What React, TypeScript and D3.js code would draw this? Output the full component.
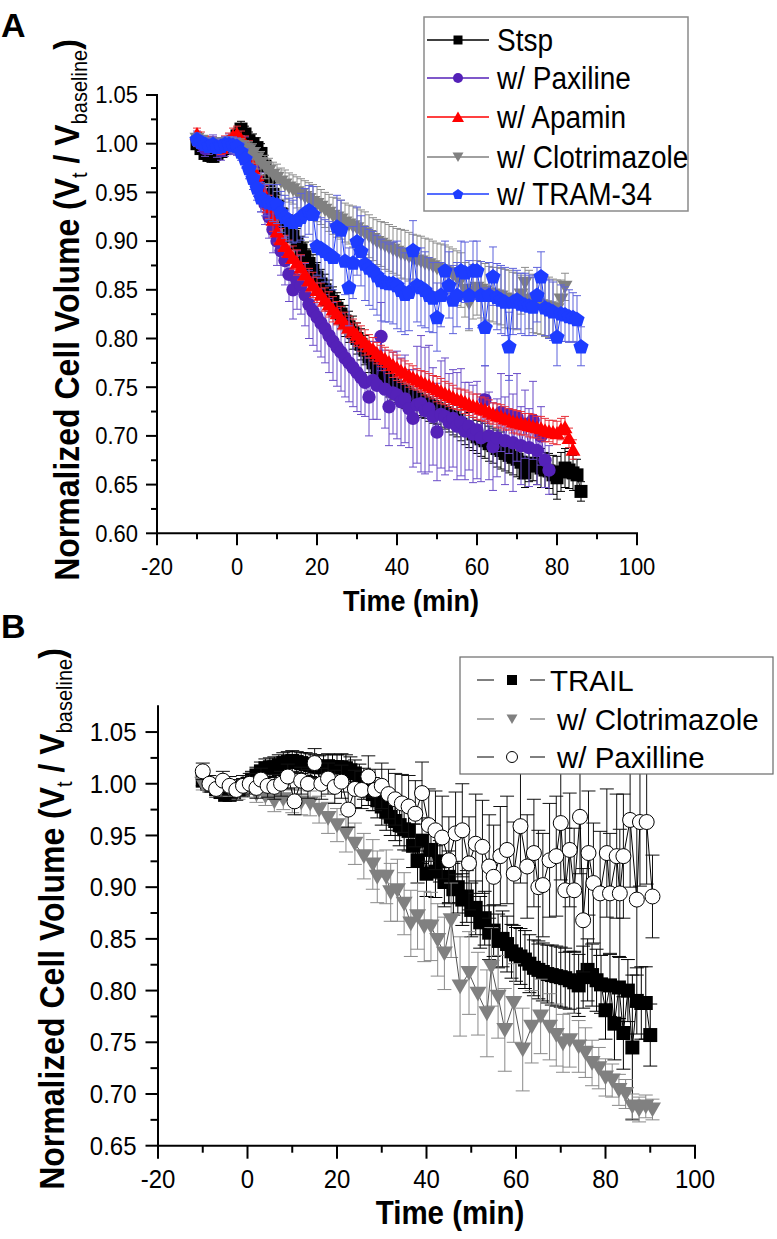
import React from "react";
import * as d3 from "d3";

// ---------------- Panel A data (1-min sampling) ----------------
const tStsp = [-10,-9,-8,-7,-6,-5,-4,-3,-2,-1,0,1,2,3,4,5,6,7,8,9,10,11,12,13,14,15,16,17,18,19,20,21,22,23,24,25,26,27,28,29,30,31,32,33,34,35,36,37,38,39,40,41,42,43,44,45,46,47,48,49,50,51,52,53,54,55,56,57,58,59,60,61,62,63,64,65,66,67,68,69,70,71,72,73,74,75,76,77,78,79,80,81,82,83,84,85,86];
const vStsp = [1.000,0.995,0.990,0.988,0.987,0.990,0.992,0.995,1.000,1.002,1.008,1.015,1.010,1.003,1.000,0.996,0.990,0.977,0.962,0.948,0.936,0.928,0.920,0.913,0.905,0.898,0.891,0.884,0.877,0.870,0.863,0.856,0.850,0.844,0.838,0.831,0.825,0.818,0.812,0.806,0.800,0.794,0.788,0.781,0.775,0.770,0.765,0.761,0.757,0.753,0.750,0.747,0.745,0.742,0.740,0.738,0.736,0.734,0.732,0.730,0.728,0.726,0.724,0.722,0.719,0.716,0.712,0.709,0.706,0.702,0.699,0.697,0.695,0.692,0.690,0.687,0.685,0.682,0.680,0.678,0.676,0.673,0.662,0.671,0.672,0.669,0.667,0.665,0.664,0.660,0.657,0.663,0.667,0.665,0.662,0.660,0.643];
const eStsp = [0.005,0.005,0.006,0.006,0.006,0.007,0.006,0.006,0.007,0.007,0.008,0.008,0.008,0.009,0.010,0.010,0.010,0.011,0.012,0.012,0.012,0.013,0.013,0.014,0.014,0.015,0.014,0.015,0.015,0.016,0.015,0.015,0.016,0.016,0.015,0.016,0.015,0.016,0.016,0.017,0.016,0.016,0.015,0.016,0.016,0.017,0.016,0.017,0.017,0.016,0.016,0.017,0.017,0.016,0.017,0.017,0.017,0.016,0.017,0.017,0.016,0.017,0.017,0.018,0.018,0.017,0.017,0.018,0.018,0.017,0.017,0.018,0.018,0.018,0.018,0.019,0.019,0.018,0.018,0.018,0.018,0.017,0.015,0.018,0.018,0.019,0.020,0.018,0.018,0.020,0.022,0.020,0.020,0.019,0.018,0.016,0.010];

const tPax = [-10,-9,-8,-7,-6,-5,-4,-3,-2,-1,0,1,2,3,4,5,6,7,8,9,10,11,12,13,14,15,16,17,18,19,20,21,22,23,24,25,26,27,28,29,30,31,32,33,34,35,36,37,38,39,40,41,42,43,44,45,46,47,48,49,50,51,52,53,54,55,56,57,58,59,60,61,62,63,64,65,66,67,68,69,70,71,72,73,74,75,76,77,78];
const vPax = [1.005,1.000,0.995,0.998,1.000,0.996,0.993,0.997,1.000,0.999,0.998,0.997,0.995,0.986,0.975,0.963,0.950,0.938,0.925,0.912,0.900,0.890,0.880,0.866,0.850,0.860,0.855,0.845,0.835,0.828,0.822,0.816,0.810,0.803,0.797,0.791,0.786,0.780,0.775,0.770,0.765,0.760,0.755,0.740,0.757,0.752,0.802,0.748,0.730,0.744,0.742,0.735,0.738,0.728,0.718,0.732,0.733,0.726,0.728,0.720,0.704,0.722,0.720,0.714,0.718,0.710,0.714,0.705,0.710,0.702,0.706,0.698,0.737,0.700,0.689,0.698,0.724,0.695,0.722,0.693,0.719,0.690,0.712,0.688,0.716,0.685,0.700,0.675,0.665];
const ePax = [0.008,0.008,0.008,0.009,0.009,0.010,0.010,0.010,0.010,0.010,0.010,0.011,0.012,0.013,0.015,0.017,0.020,0.021,0.022,0.024,0.025,0.025,0.025,0.028,0.030,0.030,0.030,0.032,0.035,0.035,0.035,0.035,0.035,0.038,0.040,0.040,0.040,0.040,0.040,0.040,0.040,0.038,0.035,0.040,0.040,0.035,0.035,0.040,0.040,0.042,0.045,0.045,0.045,0.040,0.050,0.060,0.070,0.065,0.065,0.050,0.050,0.055,0.060,0.050,0.050,0.055,0.055,0.050,0.045,0.050,0.050,0.045,0.035,0.045,0.045,0.040,0.040,0.045,0.040,0.050,0.045,0.040,0.035,0.040,0.040,0.035,0.030,0.028,0.025];

const tApa = [-10,-9,-8,-7,-6,-5,-4,-3,-2,-1,0,1,2,3,4,5,6,7,8,9,10,11,12,13,14,15,16,17,18,19,20,21,22,23,24,25,26,27,28,29,30,31,32,33,34,35,36,37,38,39,40,41,42,43,44,45,46,47,48,49,50,51,52,53,54,55,56,57,58,59,60,61,62,63,64,65,66,67,68,69,70,71,72,73,74,75,76,77,78,79,80,81,82,83,84];
const vApa = [1.010,1.006,1.002,1.000,1.000,0.998,0.996,1.000,1.003,1.008,1.010,1.005,1.000,0.994,0.985,0.968,0.955,0.945,0.935,0.922,0.910,0.902,0.895,0.889,0.883,0.878,0.873,0.866,0.860,0.855,0.850,0.845,0.840,0.835,0.830,0.826,0.821,0.816,0.812,0.808,0.804,0.800,0.796,0.792,0.789,0.785,0.782,0.779,0.776,0.773,0.770,0.767,0.765,0.762,0.760,0.758,0.756,0.754,0.752,0.750,0.748,0.746,0.744,0.742,0.740,0.738,0.737,0.735,0.733,0.731,0.730,0.728,0.727,0.725,0.723,0.721,0.720,0.718,0.717,0.715,0.714,0.713,0.712,0.711,0.710,0.709,0.708,0.706,0.705,0.704,0.703,0.707,0.709,0.698,0.686];
const eApa = [0.006,0.006,0.006,0.007,0.007,0.007,0.007,0.008,0.008,0.008,0.008,0.008,0.008,0.009,0.010,0.011,0.012,0.012,0.012,0.012,0.012,0.011,0.011,0.012,0.012,0.013,0.013,0.012,0.012,0.013,0.013,0.012,0.012,0.013,0.013,0.012,0.012,0.011,0.011,0.012,0.012,0.013,0.013,0.012,0.012,0.011,0.011,0.012,0.012,0.013,0.013,0.012,0.012,0.012,0.012,0.011,0.011,0.012,0.012,0.012,0.013,0.013,0.012,0.012,0.012,0.011,0.011,0.012,0.012,0.012,0.013,0.012,0.012,0.012,0.011,0.012,0.012,0.012,0.011,0.012,0.012,0.012,0.011,0.012,0.012,0.011,0.012,0.012,0.011,0.012,0.012,0.011,0.011,0.010,0.010];

const tClo = [-10,-9,-8,-7,-6,-5,-4,-3,-2,-1,0,1,2,3,4,5,6,7,8,9,10,11,12,13,14,15,16,17,18,19,20,21,22,23,24,25,26,27,28,29,30,31,32,33,34,35,36,37,38,39,40,41,42,43,44,45,46,47,48,49,50,51,52,53,54,55,56,57,58,59,60,61,62,63,64,65,66,67,68,69,70,71,72,73,74,75,76,77,78,79,80,81,82];
const vClo = [1.005,1.003,1.000,1.000,1.000,0.999,1.000,1.000,1.000,0.999,0.998,0.997,0.995,0.993,0.990,0.985,0.980,0.976,0.972,0.968,0.965,0.961,0.958,0.955,0.953,0.950,0.948,0.945,0.943,0.940,0.938,0.935,0.932,0.929,0.926,0.924,0.922,0.919,0.917,0.915,0.913,0.910,0.908,0.905,0.902,0.899,0.897,0.895,0.893,0.891,0.889,0.887,0.886,0.884,0.882,0.880,0.879,0.877,0.876,0.874,0.872,0.870,0.869,0.867,0.865,0.862,0.860,0.850,0.836,0.848,0.852,0.850,0.848,0.846,0.845,0.844,0.843,0.841,0.840,0.839,0.838,0.845,0.857,0.840,0.836,0.835,0.834,0.833,0.832,0.831,0.830,0.840,0.853];
const eClo = [0.005,0.005,0.005,0.006,0.006,0.006,0.006,0.006,0.007,0.007,0.007,0.008,0.008,0.009,0.010,0.011,0.012,0.012,0.013,0.013,0.014,0.014,0.015,0.015,0.015,0.016,0.016,0.017,0.017,0.018,0.018,0.018,0.018,0.019,0.019,0.020,0.020,0.020,0.020,0.021,0.021,0.022,0.022,0.022,0.022,0.023,0.023,0.024,0.024,0.024,0.024,0.025,0.025,0.025,0.025,0.026,0.026,0.026,0.026,0.026,0.026,0.027,0.027,0.027,0.027,0.028,0.028,0.028,0.028,0.028,0.028,0.029,0.029,0.028,0.028,0.029,0.029,0.030,0.030,0.029,0.029,0.020,0.016,0.030,0.030,0.030,0.030,0.031,0.031,0.030,0.030,0.020,0.014];

const tTram = [-10,-9,-8,-7,-6,-5,-4,-3,-2,-1,0,1,2,3,4,5,6,7,8,9,10,11,12,13,14,15,16,17,18,19,20,21,22,23,24,25,26,27,28,29,30,31,32,33,34,35,36,37,38,39,40,41,42,43,44,45,46,47,48,49,50,51,52,53,54,55,56,57,58,59,60,61,62,63,64,65,66,67,68,69,70,71,72,73,74,75,76,77,78,79,80,81,82,83,84,85,86];
const vTram = [1.005,1.002,1.000,0.998,1.000,0.997,0.998,1.000,1.000,0.999,0.998,0.992,0.985,0.975,0.965,0.955,0.945,0.942,0.940,0.939,0.938,0.930,0.925,0.922,0.920,0.922,0.925,0.929,0.932,0.928,0.895,0.893,0.890,0.887,0.884,0.915,0.912,0.880,0.853,0.878,0.900,0.890,0.877,0.873,0.870,0.865,0.860,0.858,0.857,0.857,0.855,0.850,0.846,0.848,0.891,0.855,0.853,0.850,0.845,0.842,0.822,0.845,0.870,0.855,0.840,0.845,0.870,0.868,0.845,0.870,0.870,0.845,0.812,0.845,0.864,0.843,0.840,0.838,0.792,0.838,0.840,0.836,0.835,0.834,0.833,0.845,0.864,0.832,0.830,0.828,0.802,0.826,0.825,0.823,0.822,0.820,0.792];
const eTram = [0.006,0.006,0.006,0.007,0.007,0.007,0.007,0.007,0.007,0.008,0.008,0.009,0.010,0.011,0.012,0.013,0.015,0.016,0.018,0.019,0.020,0.021,0.022,0.022,0.022,0.023,0.024,0.025,0.025,0.028,0.030,0.031,0.032,0.033,0.034,0.032,0.030,0.035,0.040,0.037,0.035,0.036,0.038,0.039,0.040,0.041,0.042,0.041,0.040,0.042,0.045,0.043,0.042,0.040,0.030,0.038,0.040,0.039,0.038,0.036,0.035,0.033,0.030,0.034,0.035,0.033,0.030,0.031,0.035,0.030,0.030,0.034,0.040,0.033,0.030,0.034,0.035,0.035,0.035,0.034,0.030,0.031,0.032,0.031,0.030,0.028,0.025,0.029,0.030,0.030,0.030,0.029,0.028,0.027,0.025,0.024,0.020];

// ---------------- Panel B data ----------------
const tTrail = [-10,-9,-8,-7,-6,-5,-4,-3,-2,-1,0,1,2,3,4,5,6,7,8,9,10,11,12,13,14,15,16,17,18,19,20,21,22,23,24,25,26,27,28,29,30,31,32,33,34,35,36,37,38,39,40,41,42,43,44,45,46,47,48,49,50,51,52,53,54,55,56,57,58,59,60,61,62,63,64,65,66,67,68,69,70,71,72,73,74,75,76,77,78,79,80,81,82,83,84,85,86,87,88,89,90];
const vTrail = [1.003,1.000,0.998,0.995,0.992,0.990,0.990,0.992,0.995,0.997,1.000,1.004,1.008,1.012,1.015,1.016,1.016,1.018,1.020,1.021,1.022,1.021,1.020,1.019,1.018,1.017,1.016,1.016,1.017,1.016,1.016,1.016,1.015,1.013,1.010,1.005,1.000,0.995,0.990,0.984,0.978,0.973,0.968,0.964,0.960,0.956,0.955,0.940,0.926,0.945,0.913,0.936,0.915,0.925,0.905,0.910,0.898,0.900,0.888,0.891,0.878,0.880,0.866,0.870,0.856,0.858,0.848,0.850,0.845,0.838,0.835,0.833,0.830,0.826,0.822,0.820,0.818,0.816,0.815,0.814,0.813,0.812,0.810,0.808,0.805,0.813,0.820,0.815,0.810,0.806,0.781,0.805,0.768,0.803,0.759,0.800,0.745,0.790,0.788,0.788,0.757];
const eTrail = [0.005,0.005,0.006,0.006,0.006,0.007,0.007,0.007,0.007,0.008,0.008,0.008,0.008,0.009,0.009,0.009,0.010,0.010,0.010,0.010,0.010,0.010,0.010,0.011,0.011,0.011,0.011,0.012,0.012,0.012,0.012,0.013,0.013,0.013,0.013,0.014,0.015,0.016,0.016,0.017,0.018,0.018,0.018,0.019,0.020,0.020,0.020,0.021,0.022,0.022,0.022,0.024,0.025,0.020,0.024,0.025,0.025,0.025,0.025,0.025,0.026,0.026,0.025,0.026,0.026,0.025,0.026,0.027,0.027,0.026,0.026,0.027,0.028,0.028,0.027,0.028,0.028,0.028,0.029,0.029,0.029,0.029,0.028,0.030,0.030,0.030,0.030,0.030,0.030,0.028,0.028,0.030,0.035,0.030,0.035,0.030,0.070,0.032,0.035,0.035,0.030];

const tCloB = [-10,-8,-6,-4,-2,0,2,4,6,8,10,12,14,16,18,20,22,24,26,28,29,31,32,33.5,35,36.5,38,39.5,41,42.5,44,45.5,47.5,49.5,51.5,53.5,54.5,56,57.5,59.5,61.5,63.5,65.5,67.5,69,70.5,72,74,75.5,77,78.5,80,81.5,83,84.5,86,87.5,89,90.5];
const vCloB = [1.000,0.998,0.995,0.995,0.993,0.995,0.990,0.988,0.983,0.985,0.983,0.982,0.981,0.975,0.967,0.960,0.952,0.942,0.930,0.922,0.910,0.910,0.895,0.897,0.884,0.865,0.872,0.862,0.862,0.849,0.836,0.868,0.804,0.817,0.797,0.778,0.823,0.794,0.762,0.788,0.743,0.765,0.775,0.765,0.757,0.749,0.752,0.746,0.740,0.730,0.725,0.716,0.713,0.704,0.700,0.688,0.685,0.688,0.685];
const eCloB = [0.006,0.006,0.007,0.007,0.008,0.008,0.008,0.009,0.010,0.010,0.011,0.012,0.012,0.013,0.015,0.016,0.018,0.020,0.022,0.024,0.025,0.026,0.028,0.030,0.030,0.032,0.032,0.034,0.033,0.035,0.035,0.036,0.048,0.040,0.040,0.042,0.038,0.040,0.040,0.038,0.040,0.035,0.036,0.032,0.030,0.028,0.026,0.025,0.024,0.022,0.020,0.018,0.016,0.015,0.014,0.012,0.012,0.011,0.010];

const tPaxB = [-10,-8.5,-7,-5.5,-4,-2.5,-1,0.5,2,3,4.5,6,7.5,9,10.5,12,13.5,15,16.5,18,19.5,21,22.5,24,25.5,27,28.5,30,31.5,33,34.5,36,37.5,39,40.5,42,43.5,45,46.5,48,49.5,51,52.5,54,55,56.5,58,59.5,61,62.5,64,65,66,67.5,69,70,71,72,73,74.3,75,76.2,77.3,78.8,80.3,81,82.5,83.2,84,85.5,87,87.7,89.2,90.5];
const vPaxB = [1.012,1.000,0.995,1.003,0.998,0.994,0.998,1.000,0.996,1.004,0.998,0.997,1.000,1.007,0.983,1.003,1.000,1.020,1.000,1.005,0.997,1.002,0.975,0.995,0.994,1.007,0.994,0.998,0.990,0.985,0.981,0.978,0.971,0.991,0.960,0.955,0.948,0.926,0.952,0.955,0.923,0.942,0.939,0.920,0.910,0.930,0.936,0.913,0.959,0.920,0.933,0.900,0.902,0.926,0.930,0.962,0.897,0.936,0.897,0.968,0.868,0.933,0.904,0.894,0.933,0.894,0.930,0.894,0.930,0.965,0.888,0.963,0.963,0.891];
const ePaxB = [0.008,0.008,0.008,0.009,0.009,0.010,0.010,0.010,0.010,0.011,0.011,0.012,0.012,0.012,0.013,0.013,0.014,0.014,0.015,0.015,0.016,0.016,0.017,0.018,0.018,0.020,0.020,0.022,0.024,0.025,0.028,0.030,0.032,0.030,0.035,0.038,0.040,0.042,0.040,0.045,0.045,0.048,0.045,0.050,0.050,0.048,0.052,0.050,0.055,0.050,0.052,0.055,0.050,0.055,0.058,0.055,0.060,0.055,0.060,0.055,0.050,0.060,0.058,0.060,0.062,0.058,0.060,0.062,0.060,0.065,0.073,0.062,0.060,0.040];

// ---------------- ticks / labels ----------------
const xTicks = [-20, 0, 20, 40, 60, 80, 100];
const xMinor = [-10, 10, 30, 50, 70, 90];
const yTicksA = [0.60, 0.65, 0.70, 0.75, 0.80, 0.85, 0.90, 0.95, 1.00, 1.05];
const yMinorA = [0.625, 0.675, 0.725, 0.775, 0.825, 0.875, 0.925, 0.975, 1.025];
const yTicksB = [0.65, 0.70, 0.75, 0.80, 0.85, 0.90, 0.95, 1.00, 1.05];
const yMinorB = [0.675, 0.725, 0.775, 0.825, 0.875, 0.925, 0.975, 1.025];
const namesA = ["Stsp", "w/ Paxiline", "w/ Apamin", "w/ Clotrimazole", "w/ TRAM-34"];
const namesB = ["TRAIL", "w/ Clotrimazole", "w/ Paxilline"];

const FONT = "'Liberation Sans', Arial, Helvetica, sans-serif";

// ---------------- symbols ----------------
const squareType = { draw(ctx: any, r: number) { ctx.rect(-r, -r, 2 * r, 2 * r); } };
const circleType = { draw(ctx: any, r: number) { ctx.moveTo(r, 0); ctx.arc(0, 0, r, 0, 2 * Math.PI); } };
const triUpType = { draw(ctx: any, r: number) { ctx.moveTo(0, -r * 0.92); ctx.lineTo(r, r * 0.82); ctx.lineTo(-r, r * 0.82); ctx.closePath(); } };
const triDownType = { draw(ctx: any, r: number) { ctx.moveTo(0, r * 0.92); ctx.lineTo(r, -r * 0.82); ctx.lineTo(-r, -r * 0.82); ctx.closePath(); } };
const pentType = {
  draw(ctx: any, r: number) {
    for (let i = 0; i < 5; i++) {
      const a = -Math.PI / 2 + (i * 2 * Math.PI) / 5;
      const x = r * Math.cos(a), y = r * Math.sin(a) + r * 0.1;
      if (i === 0) ctx.moveTo(x, y); else ctx.lineTo(x, y);
    }
    ctx.closePath();
  },
};
const symPath = (type: any, r: number) => d3.symbol().type(type).size(r)() as string;

type Series = {
  name: string; t: number[]; v: number[]; e: number[];
  color: string; errColor: string; lineColor: string; type: any; r: number;
  fill: string; stroke?: string; lr: number;
};

const seriesA: Series[] = [
  { name: namesA[0], t: tStsp, v: vStsp, e: eStsp, color: "#000", errColor: "#000", lineColor: "#000", type: squareType, r: 6.5, fill: "#000", lr: 4.5 },
  { name: namesA[1], t: tPax, v: vPax, e: ePax, color: "#5421b8", errColor: "#6a4cc8", lineColor: "#5421b8", type: circleType, r: 6.7, fill: "#5421b8", lr: 5 },
  { name: namesA[2], t: tApa, v: vApa, e: eApa, color: "#ff0000", errColor: "#e8303a", lineColor: "#ff0000", type: triUpType, r: 7.5, fill: "#ff0000", lr: 6 },
  { name: namesA[3], t: tClo, v: vClo, e: eClo, color: "#808080", errColor: "#8c8c8c", lineColor: "#808080", type: triDownType, r: 7.5, fill: "#808080", lr: 5.5 },
  { name: namesA[4], t: tTram, v: vTram, e: eTram, color: "#1d3cff", errColor: "#5d62dc", lineColor: "#1d3cff", type: pentType, r: 8, fill: "#1d3cff", lr: 5.5 },
];

const seriesB: Series[] = [
  { name: namesB[0], t: tTrail, v: vTrail, e: eTrail, color: "#000", errColor: "#000", lineColor: "#000", type: squareType, r: 7, fill: "#000", lr: 5 },
  { name: namesB[1], t: tCloB, v: vCloB, e: eCloB, color: "#808080", errColor: "#8a8a8a", lineColor: "#555", type: triDownType, r: 8.5, fill: "#808080", lr: 5.5 },
  { name: namesB[2], t: tPaxB, v: vPaxB, e: ePaxB, color: "#000", errColor: "#111", lineColor: "#000", type: circleType, r: 7.5, fill: "#fff", stroke: "#000", lr: 5.5 },
];

function Txt(p: { x: number; y: number; size: number; weight?: string; anchor?: string; sy?: number; children: any }) {
  return (
    <text transform={`translate(${p.x},${p.y}) scale(1,${p.sy ?? 1.1})`} fontSize={p.size} fontWeight={p.weight ?? "normal"}
      textAnchor={p.anchor ?? "start"} fontFamily={FONT} fill="#000">{p.children}</text>
  );
}

type Cfg = {
  xRange: [number, number]; yDomain: [number, number]; yRange: [number, number];
  yTicks: number[]; yMinor: number[]; majorX: number; minorX: number; majorY: number; minorY: number;
  tickFont: number; yLabelRight: number; xLabelBase: number; cap: number;
  titleX: number; titleBase: number; titleFont: number; yTitleX: number; yTitleY: number; yTitleFont: number;
  letter: string; letterY: number;
};

function Panel({ cfg, series }: { cfg: Cfg; series: Series[] }) {
  const x = d3.scaleLinear().domain([-20, 100]).range(cfg.xRange);
  const y = d3.scaleLinear().domain(cfg.yDomain).range(cfg.yRange);
  const x0 = x(-20), y0 = y(cfg.yDomain[0]);
  const line = d3.line<[number, number]>();
  const sub = Math.round(cfg.yTitleFont * 0.64);
  return (
    <g>
      {series.map((s, si) => {
        const pts = s.t.map((t, i) => [x(t), y(s.v[i])] as [number, number]);
        const eb = s.t.map((t, i) => {
          const px = x(t), a = y(s.v[i] + (s.e[i] ?? 0)), b = y(s.v[i] - (s.e[i] ?? 0));
          return `M${px},${a}V${b}M${px - cfg.cap},${a}H${px + cfg.cap}M${px - cfg.cap},${b}H${px + cfg.cap}`;
        }).join("");
        const sp = symPath(s.type, s.r);
        return (
          <g key={si}>
            <path d={eb} stroke={s.errColor} strokeWidth={1} fill="none" />
            <path d={line(pts) as string} stroke={s.lineColor} strokeWidth={1} fill="none" />
            {pts.map((p, i) => (
              <path key={i} d={sp} transform={`translate(${p[0]},${p[1]})`} fill={s.fill}
                stroke={s.stroke ?? "none"} strokeWidth={s.stroke ? 1 : 0} />
            ))}
          </g>
        );
      })}
      <line x1={x0} x2={x(100)} y1={y0} y2={y0} stroke="#000" strokeWidth={2} strokeLinecap="square" />
      <line x1={x0} x2={x0} y1={y0} y2={cfg.yRange[1]} stroke="#000" strokeWidth={2} strokeLinecap="square" />
      {xTicks.map((t) => (
        <g key={"xt" + t}>
          <line x1={x(t)} x2={x(t)} y1={y0} y2={y0 + cfg.majorX} stroke="#000" strokeWidth={2} />
          <Txt x={x(t)} y={cfg.xLabelBase} size={cfg.tickFont} anchor="middle" sy={1.05}>{String(t)}</Txt>
        </g>
      ))}
      {xMinor.map((t) => (
        <line key={"xm" + t} x1={x(t)} x2={x(t)} y1={y0} y2={y0 + cfg.minorX} stroke="#000" strokeWidth={2} />
      ))}
      {cfg.yTicks.map((v) => (
        <g key={"yt" + v}>
          <line x1={x0 - cfg.majorY} x2={x0} y1={y(v)} y2={y(v)} stroke="#000" strokeWidth={2} />
          <Txt x={cfg.yLabelRight} y={y(v) + cfg.tickFont * 0.38} size={cfg.tickFont} anchor="end" sy={1.05}>{v.toFixed(2)}</Txt>
        </g>
      ))}
      {cfg.yMinor.map((v) => (
        <line key={"ym" + v} x1={x0 - cfg.minorY} x2={x0} y1={y(v)} y2={y(v)} stroke="#000" strokeWidth={2} />
      ))}
      <Txt x={cfg.titleX} y={cfg.titleBase} size={cfg.titleFont} weight="bold" anchor="middle">Time (min)</Txt>
      <text transform={`translate(${cfg.yTitleX},${cfg.yTitleY}) rotate(-90) scale(1,1.1)`} textAnchor="middle"
        fontSize={cfg.yTitleFont} fontWeight="bold" fontFamily={FONT} fill="#000">
        Normalized Cell Volume (V<tspan fontSize={sub} fontWeight="normal" dy={sub * 0.35}>t</tspan>
        <tspan dy={-sub * 0.35}> / V</tspan>
        <tspan fontSize={sub} fontWeight="normal" dy={sub * 0.35}>baseline</tspan>
        <tspan dy={-sub * 0.35}>)</tspan>
      </text>
      <Txt x={1} y={cfg.letterY} size={34} weight="bold" sy={1.0}>{cfg.letter}</Txt>
    </g>
  );
}

const cfgA: Cfg = {
  xRange: [157, 637], yDomain: [0.6, 1.05], yRange: [533.3, 95], yTicks: yTicksA, yMinor: yMinorA,
  majorX: 12, minorX: 6, majorY: 11, minorY: 6, tickFont: 22, yLabelRight: 138, xLabelBase: 575, cap: 4,
  titleX: 411, titleBase: 611, titleFont: 27, yTitleX: 79, yTitleY: 310, yTitleFont: 32, letter: "A", letterY: 37,
};
const cfgB: Cfg = {
  xRange: [158, 695], yDomain: [0.65, 1.075], yRange: [1145.7, 706.2], yTicks: yTicksB, yMinor: yMinorB,
  majorX: 13, minorX: 7, majorY: 12.5, minorY: 7.5, tickFont: 24, yLabelRight: 136.5, xLabelBase: 1188, cap: 7,
  titleX: 450, titleBase: 1224, titleFont: 29.5, yTitleX: 64, yTitleY: 919, yTitleFont: 32, letter: "B", letterY: 638,
};

function LegendA() {
  const ys = [40, 78, 117, 157, 194];
  return (
    <g>
      <rect x={424} y={17} width={264} height={194} fill="#fff" stroke="#8a8a8a" strokeWidth={1.5} />
      {seriesA.map((s, i) => (
        <g key={i}>
          <line x1={427} x2={489} y1={ys[i]} y2={ys[i]} stroke={s.lineColor} strokeWidth={1.5} />
          <path d={symPath(s.type, s.lr)} transform={`translate(458,${ys[i]})`} fill={s.fill} />
          <Txt x={497} y={ys[i] + 11} size={28}>{s.name}</Txt>
        </g>
      ))}
    </g>
  );
}

function LegendB() {
  const ys = [680, 719, 757];
  const tx = [550, 557, 557];
  return (
    <g>
      <rect x={460} y={657} width={313} height={117} fill="#fff" stroke="#6a6a6a" strokeWidth={1.2} />
      {seriesB.map((s, i) => (
        <g key={i}>
          <line x1={477} x2={494} y1={ys[i]} y2={ys[i]} stroke={s.lineColor} strokeWidth={1} />
          <line x1={530} x2={545} y1={ys[i]} y2={ys[i]} stroke={s.lineColor} strokeWidth={1} />
          <path d={symPath(s.type, s.lr)} transform={`translate(512,${ys[i]})`} fill={s.fill}
            stroke={s.stroke ?? "none"} strokeWidth={s.stroke ? 1 : 0} />
          <Txt x={tx[i]} y={ys[i] + 10.5} size={29.5} sy={1.0}>{s.name}</Txt>
        </g>
      ))}
    </g>
  );
}

export default function App() {
  return (
    <svg width={777} height={1239} viewBox="0 0 777 1239" style={{ position: "absolute", left: 0, top: 0, background: "#fff" }}>
      <rect x={0} y={0} width={777} height={1239} fill="#fff" />
      <Panel cfg={cfgA} series={seriesA} />
      <LegendA />
      <Panel cfg={cfgB} series={seriesB} />
      <LegendB />
    </svg>
  );
}
